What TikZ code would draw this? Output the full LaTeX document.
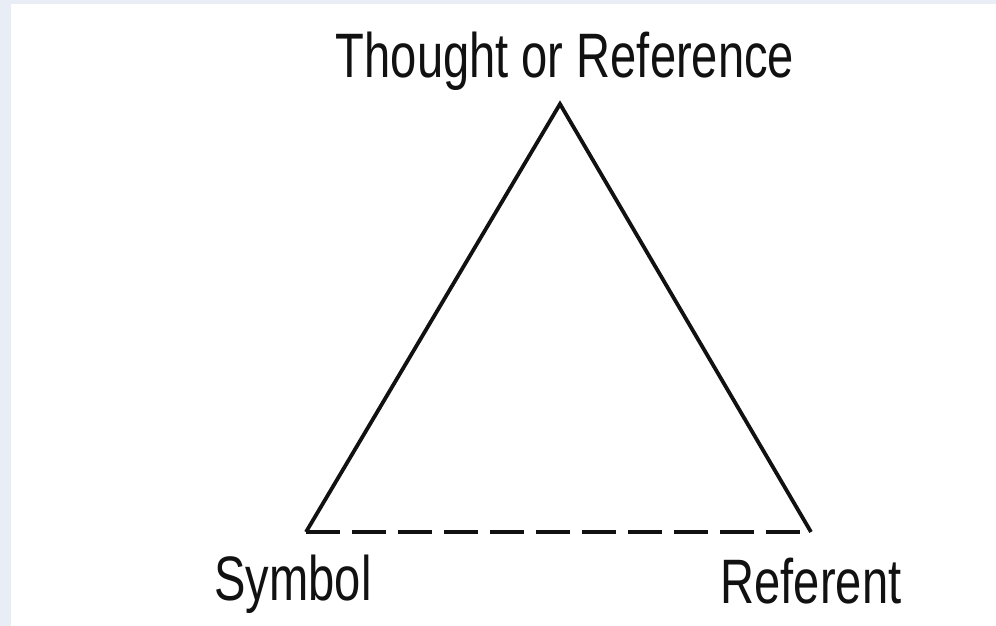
\documentclass[tikz,border=0pt]{standalone}
\usepackage{fontspec}
\newfontfamily\narrowsans[FakeStretch=0.75]{Liberation Sans}
\usepackage{xcolor}
\definecolor{TRIframe}{HTML}{E9EDF5}
\definecolor{TRIink}{HTML}{111111}
\usepackage{tikz}
\usetikzlibrary{positioning, calc}

\begin{document}
\begin{tikzpicture}[x=0.5pt, y=-0.5pt]

\tikzset{
  side/.style={TRIink, line width=1.9pt, line join=miter},
  base/.style={TRIink, line width=1.9pt, dash pattern=on 17pt off 6pt},
  cornerlabel/.style={TRIink, inner sep=0pt, anchor=base,
    font=\narrowsans\fontsize{31.4}{36}\selectfont},
}

  % ── Frame ─────────────────────────────────────────────────
  \fill[TRIframe] (0,0) rectangle (996,626);
  \fill[white] (11,4) rectangle (996,626);
  \useasboundingbox (0,0) rectangle (996,626);

  % ── Corners of the triangle ───────────────────────────────
  \coordinate (thought)  at (560,104);
  \coordinate (symbol)   at (306,532);
  \coordinate (referent) at (811,532);

  % ── Sides ─────────────────────────────────────────────────
  \draw[side] (symbol) -- (thought) -- (referent);
  \draw[base] (symbol) -- (referent);

  % ── Labels ────────────────────────────────────────────────
  \node[cornerlabel] (thoughtlbl)  at (565,78)  {Thought or Reference};
  \node[cornerlabel] (symbollbl)   at (293,600) {Symbol};
  \node[cornerlabel] (referentlbl) at (811,603) {Referent};

\end{tikzpicture}
\end{document}
